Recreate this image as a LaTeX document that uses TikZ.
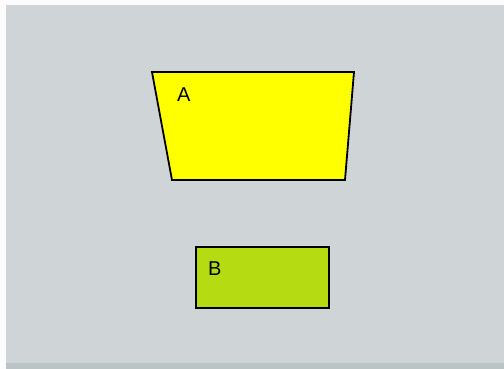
\documentclass[tikz,border=0pt]{standalone}
\usepackage{fontspec}
\setmainfont{Liberation Sans}
\definecolor{bg}{HTML}{CFD4D6}
\definecolor{bgdark}{HTML}{BAC4C4}
\definecolor{ayel}{HTML}{FFFF00}
\definecolor{bgreen}{HTML}{B5DC12}
\begin{document}
\begin{tikzpicture}[x=1pt,y=-1pt,
  shapeline/.style={draw=black,line width=1.8pt,line join=miter},
  lbl/.style={font=\fontsize{20}{22}\selectfont,anchor=base west,inner sep=0pt}]
\useasboundingbox (0,0) rectangle (504,369);
\fill[white!94!bg] (0,0) rectangle (504,369);
\fill[bg] (6,5) rectangle (504,369);
\fill[bgdark] (6,363) rectangle (504,369);
% trapezoid A
\coordinate (a1) at (152,72);
\coordinate (a2) at (354,72);
\coordinate (a3) at (345,180);
\coordinate (a4) at (172,180);
\filldraw[shapeline,fill=ayel] (a1) -- (a2) -- (a3) -- (a4) -- cycle;
\node[lbl] (A) at (177,102) {A};
% rectangle B
\coordinate (b1) at (196,247);
\coordinate (b2) at (329,308);
\filldraw[shapeline,fill=bgreen] (b1) rectangle (b2);
\node[lbl] (B) at (208,275) {B};
\end{tikzpicture}
\end{document}
